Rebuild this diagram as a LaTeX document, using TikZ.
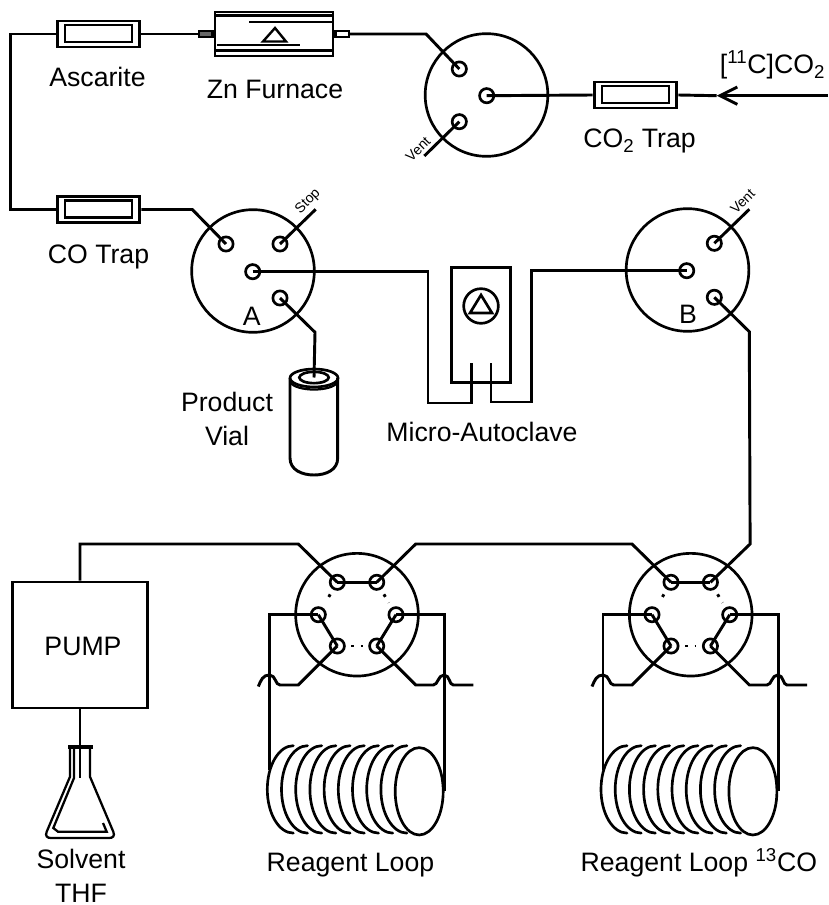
\documentclass[tikz,border=0pt]{standalone}
\usepackage{fontspec}
\setmainfont{Liberation Sans}
\usetikzlibrary{arrows.meta,positioning,shapes.geometric}
\tikzset{
  pipe/.style={line width=2.2pt, draw=black},
  thinpipe/.style={line width=1.7pt, draw=black},
  inpipe/.style={line width=2.2pt, draw=black, -{Straight Barb[length=13pt, width=13pt, line width=2.2pt]}},
  dotrun/.style={line width=2.2pt, dash pattern=on 2.2pt off 5pt, shorten >=10.5pt, shorten <=10.5pt},
  valve/.style={circle, draw, line width=2pt, minimum size=92pt, inner sep=0pt},
  port/.style={circle, draw, line width=2pt, minimum size=10.7pt, inner sep=0pt},
  labeltext/.style={font=\fontsize{20}{25}\selectfont, inner sep=0pt, anchor=base, align=center},
  smalltext/.style={font=\fontsize{10.5}{12}\selectfont, inner sep=0pt, rotate=45},
  trap/.style={rectangle, draw, line width=2.2pt, minimum width=62pt, minimum height=19.5pt, inner sep=0pt,
    path picture={\draw[line width=2pt, shift={(path picture bounding box.center)}] (-33.5,-9) rectangle (33.5,8);}},
  furnacebox/.style={rectangle, draw, line width=2.2pt, minimum width=88.5pt, minimum height=33pt, inner sep=0pt,
    path picture={\draw[line width=2pt, shift={(path picture bounding box.center)}]
      (-59,-18.5) -- (59,-18.5) (-25,-12) -- (58,-12) (-57,11) -- (26,11) (-59,16.5) -- (59,16.5);}},
  stub/.style={rectangle, draw, line width=1.7pt, minimum width=10pt, minimum height=4.5pt, inner sep=0pt},
  box/.style={rectangle, draw, line width=2.2pt, inner sep=0pt},
  coilface/.style={ellipse, draw, line width=2pt, minimum width=36pt, minimum height=65.5pt, inner sep=0pt},
  coilturn/.style={line width=2pt, line cap=round}
}
% one six-port valve with its sample loop
\newcommand{\loopvalve}[2]{
  \begin{scope}[shift={(#2,0)}]
    \node[valve] (#1) at (357,614.7) {};
    \node[port] (#1p1) at ([shift={(-19.7,-32.4)}]#1.center) {};
    \node[port] (#1p2) at ([shift={(19.7,-32.4)}]#1.center) {};
    \node[port] (#1p3) at ([shift={(-38.7,0)}]#1.center) {};
    \node[port] (#1p4) at ([shift={(39,0)}]#1.center) {};
    \node[port] (#1p5) at ([shift={(-19.7,31.3)}]#1.center) {};
    \node[port] (#1p6) at ([shift={(19.7,31.3)}]#1.center) {};
    \node[coilface] (#1coil) at (419.2,791.3) {};
    \foreach \k in {0,...,8} {
      \draw[coilturn] (293.3+14.2*\k,745.7) arc[start angle=-90, end angle=-270, x radius=26, y radius=43.7];
    }
    \coordinate (#1coilin) at (269.3,770);
    \draw[pipe] (#1p1.center) -- (#1p2.center);
    \draw[pipe] (#1p3.center) -- (#1p5.center);
    \draw[pipe] (#1p4.center) -- (#1p6.center);
    \draw[dotrun] (#1p1.center) -- (#1p3.center);
    \draw[dotrun] (#1p2.center) -- (#1p4.center);
    \draw[dotrun] (#1p5.center) -- (#1p6.center);
    \draw[pipe] (#1p3.center) -| (#1coilin);
    \draw[pipe] (#1p4.center) -| (#1coil.east);
    % waste lines hop over the loop lines
    \draw[pipe] (#1p5.center) -- (298.3,685) -- (280,685) .. controls (275,685) and (276,675) .. (269.3,675)
      .. controls (263,675) and (261,680) .. (258.3,686.5);
    \draw[pipe] (#1p6.center) -- (415.7,685) -- (433.3,685) .. controls (438,685) and (438,675) .. (444,675)
      .. controls (450,675) and (449,685) .. (453.3,685) -- (473.3,685);
  \end{scope}
}
\begin{document}
\begin{tikzpicture}[x=0.75pt, y=-0.75pt]
  \useasboundingbox (0,0) rectangle (828,905);
  % top row
  \node[trap] (ascarite) at (98.5,34) {};
  \node[furnacebox] (furnace) at (274,34) {};
  \node[stub, fill=black!60, left=0pt of furnace] (furnaceinlet) {};
  \node[stub, right=0pt of furnace] (furnaceoutlet) {};
  \draw[line width=1.8pt] ([shift={(1,-6)}]furnace.center) -- ([shift={(-11,7.5)}]furnace.center) -- ([shift={(12,7.5)}]furnace.center) -- cycle;
  \node[trap] (cotrap) at (98.5,209.5) {};
  \node[trap] (cotwotrap) at (635.5,95) {};
  \node[valve] (vt) at (486.5,95) {};
  \node[port] (vt1) at ([shift={(-27.2,-26)}]vt.center) {};
  \node[port] (vt2) at ([shift={(0.2,0.7)}]vt.center) {};
  \node[port] (vt3) at ([shift={(-27.2,26.7)}]vt.center) {};
  \coordinate (vtvent) at ([shift={(-35,34.3)}]vt3.center);
  \coordinate (feed) at (828,95.7);
  \coordinate (feedtip) at (716.7,95.7);
  % middle row
  \node[valve] (va) at (253,271) {};
  \node[port] (ap1) at ([shift={(-27,-27)}]va.center) {};
  \node[port] (ap2) at ([shift={(27,-27)}]va.center) {};
  \node[port] (ap3) at ([shift={(-0.3,0.7)}]va.center) {};
  \node[port] (ap4) at ([shift={(27,27)}]va.center) {};
  \coordinate (astop) at ([shift={(35.7,-34.7)}]ap2.center);
  \node[valve] (vb) at (687.5,270) {};
  \node[port] (bp1) at ([shift={(26.8,-26.7)}]vb.center) {};
  \node[port] (bp2) at ([shift={(-0.8,0.7)}]vb.center) {};
  \node[port] (bp3) at ([shift={(26.8,27.3)}]vb.center) {};
  \coordinate (bvent) at ([shift={(35,-34)}]bp1.center);
  \node[box, minimum width=44.25pt, minimum height=86.25pt] (clave) at (481.2,325.3) {};
  \node[circle, draw, line width=2pt, minimum size=26pt, inner sep=0pt] (clavedial) at (481,306) {};
  \draw[line width=2pt] ([shift={(0,-11)}]clavedial.center) -- ([shift={(-11,7)}]clavedial.center) -- ([shift={(11,7)}]clavedial.center) -- cycle;
  \coordinate (clavein) at (471.7,363);
  \coordinate (claveout) at (491,363);
  % product vial
  \node[ellipse, draw, line width=2pt, minimum width=36pt, minimum height=13.5pt, inner sep=0pt] (vial) at (314,378) {};
  \node[ellipse, draw, line width=2pt, minimum width=22pt, minimum height=8.5pt, inner sep=0pt] (vialneck) at (314,377.5) {};
  \draw[pipe] (290,378) -- (290,458) .. controls (290,470) and (302,475) .. (314,475) .. controls (326,475) and (337.7,470) .. (337.7,458) -- (337.7,378);
  \draw[thinpipe] (290,382) .. controls (296,392) and (332,392) .. (337.7,382);
  % bottom row
  \node[box, minimum width=101pt, minimum height=94.5pt] (pump) at (80,645) {};
  \node[rectangle, fill=black, minimum width=18.5pt, minimum height=3pt, inner sep=0pt] (flaskneck) at (80.3,746.7) {};
  \coordinate (dip) at (80,778);
  \draw[thinpipe] (70,746.7) -- (70,776.7) -- (46.7,831.7) .. controls (45,836) and (47,838) .. (51,838) -- (109,838) .. controls (113,838) and (115,836) .. (113.3,831.7) -- (90,776.7) -- (90,746.7);
  \draw[thinpipe] (74,746.7) -- (74,778) -- (53.3,828) -- (58,831.7) -- (106.7,831.7) -- (103,823);
  \loopvalve{lc}{0}
  \loopvalve{ld}{333.7}
  % pipes
  \draw[pipe] (ascarite.east) -- (furnaceinlet.west);
  \draw[pipe] (ascarite.west) -- ++(-45,0) |- (cotrap.west);
  \draw[pipe] (furnaceoutlet.east) -- ++(76,0) -- (vt1.center);
  \draw[pipe] (vt2.center) -- (cotwotrap.west);
  \draw[pipe] (vt3.center) -- (vtvent);
  \draw[inpipe] (feed) -- (feedtip);
  \draw[pipe] (feedtip) -- (cotwotrap.east);
  \draw[pipe] (cotrap.east) -- ++(51,0) -- (ap1.center);
  \draw[pipe] (ap2.center) -- (astop);
  \draw[pipe] (ap3.center) -- ++(175.3,0) -- ++(0,131.3) -| (clavein);
  \draw[pipe] (claveout) -- ++(0,39) -- ++(40.7,0) |- (bp2.center);
  \draw[pipe] (ap4.center) -- ++(35,34.3) -- (vialneck.center);
  \draw[pipe] (bp1.center) -- (bvent);
  \draw[pipe] (bp3.center) -- ++(35,34.4) -- ([shift={(39.7,-38.3)}]ldp2.center) -- (ldp2.center);
  \draw[pipe] (pump.north) |- ([shift={(-39,-38.3)}]lcp1.center) -- (lcp1.center);
  \draw[pipe] (lcp2.center) -- ++(39,-38.3) -- ([shift={(-39,-38.3)}]ldp1.center) -- (ldp1.center);
  \draw[thinpipe] (pump.south) -- (dip);
  % labels
  \node[labeltext] (ascaritelabel) at (97.5,87) {Ascarite};
  \node[labeltext] (furnacelabel) at (275,99) {Zn Furnace};
  \node[labeltext] (cotwolabel) at (639.5,148) {CO\textsubscript{2} Trap};
  \node[labeltext] (feedlabel) at (772.5,74) {[\textsuperscript{11}C]CO\textsubscript{2}};
  \node[labeltext] (cotraplabel) at (98.5,263) {CO Trap};
  \node[labeltext] (alabel) at (251.7,325) {A};
  \node[labeltext] (blabel) at (688,323) {B};
  \node[labeltext] (viallabel) at (227,445) {Product\\Vial};
  \node[labeltext] (clavelabel) at (482,441.7) {Micro-Autoclave};
  \node[labeltext] (pumplabel) at (83,655) {PUMP};
  \node[labeltext] (solventlabel) at (81,902) {Solvent\\THF};
  \node[labeltext] (looplabel) at (350.5,871.7) {Reagent Loop};
  \node[labeltext] (cooplabel) at (698.8,871.7) {Reagent Loop \textsuperscript{13}CO};
  \node[smalltext] (vtventlabel) at (418,149) {Vent};
  \node[smalltext] (astoplabel) at (308,201.7) {Stop};
  \node[smalltext] (bventlabel) at (742.7,201.7) {Vent};
\end{tikzpicture}
\end{document}
